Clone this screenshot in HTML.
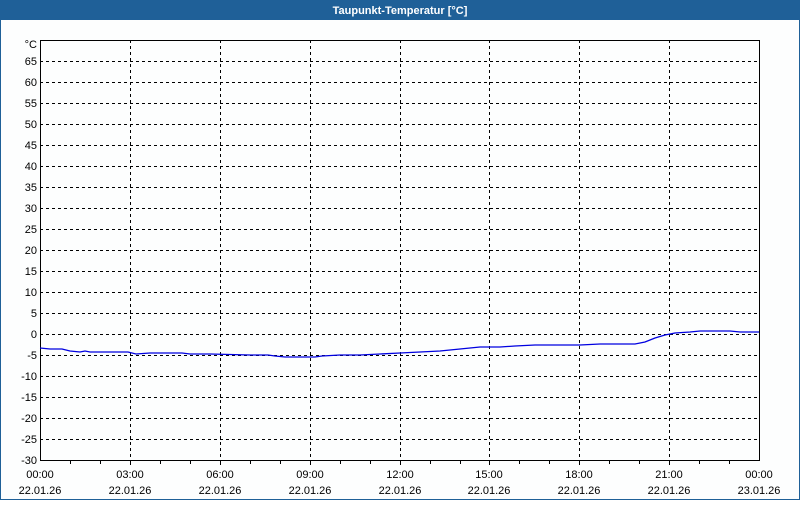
<!DOCTYPE html><html><head><style>body{margin:0;width:800px;height:500px;background:#fff;overflow:hidden}</style></head><body>
<svg width="800" height="500" xmlns="http://www.w3.org/2000/svg" font-family="Liberation Sans, sans-serif" font-size="11">
<rect x="0" y="0" width="800" height="500" fill="#fdfefe"/>
<rect x="0.5" y="0.5" width="799" height="499" fill="none" stroke="#1f6098"/>
<rect x="0" y="0" width="800" height="20" fill="#1f6098"/>
<text x="400" y="14" fill="#fff" font-weight="bold" text-anchor="middle">Taupunkt-Temperatur [°C]</text>
<g stroke="#000" stroke-dasharray="3,3" stroke-width="1">
<line x1="40" x2="759" y1="61.5" y2="61.5"/><line x1="40" x2="759" y1="82.5" y2="82.5"/><line x1="40" x2="759" y1="103.5" y2="103.5"/><line x1="40" x2="759" y1="124.5" y2="124.5"/><line x1="40" x2="759" y1="145.5" y2="145.5"/><line x1="40" x2="759" y1="166.5" y2="166.5"/><line x1="40" x2="759" y1="187.5" y2="187.5"/><line x1="40" x2="759" y1="208.5" y2="208.5"/><line x1="40" x2="759" y1="229.5" y2="229.5"/><line x1="40" x2="759" y1="250.5" y2="250.5"/><line x1="40" x2="759" y1="271.5" y2="271.5"/><line x1="40" x2="759" y1="292.5" y2="292.5"/><line x1="40" x2="759" y1="313.5" y2="313.5"/><line x1="40" x2="759" y1="334.5" y2="334.5"/><line x1="40" x2="759" y1="355.5" y2="355.5"/><line x1="40" x2="759" y1="376.5" y2="376.5"/><line x1="40" x2="759" y1="397.5" y2="397.5"/><line x1="40" x2="759" y1="418.5" y2="418.5"/><line x1="40" x2="759" y1="439.5" y2="439.5"/>
<line y1="40" y2="460" x1="130.5" x2="130.5"/><line y1="40" y2="460" x1="220.5" x2="220.5"/><line y1="40" y2="460" x1="310.5" x2="310.5"/><line y1="40" y2="460" x1="400.5" x2="400.5"/><line y1="40" y2="460" x1="489.5" x2="489.5"/><line y1="40" y2="460" x1="579.5" x2="579.5"/><line y1="40" y2="460" x1="669.5" x2="669.5"/>
</g>
<rect x="40.5" y="40.5" width="719" height="420" fill="none" stroke="#000"/>
<g stroke="#000">
<path d="M70.5 460v4M100.5 460v4M130.5 460v5M160.5 460v4M190.5 460v4M220.5 460v5M250.5 460v4M280.5 460v4M310.5 460v5M340.5 460v4M370.5 460v4M400.5 460v5M430.5 460v4M460.5 460v4M489.5 460v5M519.5 460v4M549.5 460v4M579.5 460v5M609.5 460v4M639.5 460v4M669.5 460v5M699.5 460v4M729.5 460v4"/>
</g>
<g text-anchor="end" fill="#000">
<text x="37" y="48">°C</text>
<text x="37" y="65">65</text><text x="37" y="86">60</text><text x="37" y="107">55</text><text x="37" y="128">50</text><text x="37" y="149">45</text><text x="37" y="170">40</text><text x="37" y="191">35</text><text x="37" y="212">30</text><text x="37" y="233">25</text><text x="37" y="254">20</text><text x="37" y="275">15</text><text x="37" y="296">10</text><text x="37" y="317">5</text><text x="37" y="338">0</text><text x="37" y="359">-5</text><text x="37" y="380">-10</text><text x="37" y="401">-15</text><text x="37" y="422">-20</text><text x="37" y="443">-25</text><text x="37" y="464">-30</text>
</g>
<g text-anchor="middle" fill="#000">
<text x="40" y="478">00:00</text><text x="130" y="478">03:00</text><text x="220" y="478">06:00</text><text x="310" y="478">09:00</text><text x="400" y="478">12:00</text><text x="489" y="478">15:00</text><text x="579" y="478">18:00</text><text x="669" y="478">21:00</text><text x="759" y="478">00:00</text>
<text x="40" y="494">22.01.26</text><text x="130" y="494">22.01.26</text><text x="220" y="494">22.01.26</text><text x="310" y="494">22.01.26</text><text x="400" y="494">22.01.26</text><text x="489" y="494">22.01.26</text><text x="579" y="494">22.01.26</text><text x="669" y="494">22.01.26</text><text x="759" y="494">23.01.26</text>
</g>
<polyline fill="none" stroke="#0000e0" stroke-width="1.3" points="40,348 50,349 62,349 70,351 80,352 85,351 90,352 128,352 136,354 150,353 182,353 190,354 210,354 250,355 268,355 275,356 285,357 315,357 322,356 340,355 360,355 380,354 400,353 420,352 440,351 460,349 480,347 500,347 515,346 535,345 580,345 600,344 620,344 635,344 645,342 655,338 665,335 675,333 690,332 700,331 730,331 740,332 759,332"/>
</svg></body></html>
